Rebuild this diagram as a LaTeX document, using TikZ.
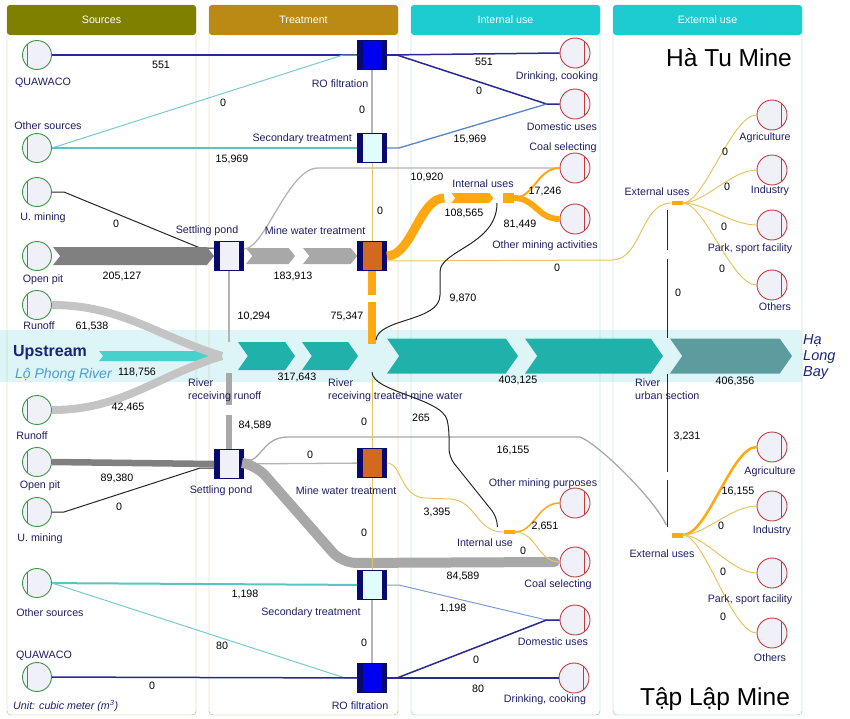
\documentclass[tikz,border=0pt]{standalone}
\usepackage{fontspec}
\setmainfont{Liberation Sans}
\usetikzlibrary{shapes.symbols, positioning, calc}

\definecolor{srchead}{RGB}{128,128,0}
\definecolor{srcline}{RGB}{176,176,112}
\definecolor{trthead}{RGB}{186,138,20}
\definecolor{trtline}{RGB}{204,168,84}
\definecolor{usehead}{RGB}{28,204,208}
\definecolor{useline}{RGB}{96,200,200}
\definecolor{lblnavy}{RGB}{30,30,100}
\definecolor{srcgreen}{RGB}{60,150,70}
\definecolor{sinkred}{RGB}{190,60,60}
\definecolor{nodefill}{RGB}{240,240,248}
\definecolor{boxnavy}{RGB}{10,10,110}
\definecolor{rofill}{RGB}{0,0,240}
\definecolor{stfill}{RGB}{224,252,252}
\definecolor{mwfill}{RGB}{210,105,30}
\definecolor{qwline}{RGB}{40,40,150}
\definecolor{osline}{RGB}{90,196,196}
\definecolor{osdiag}{RGB}{120,200,210}
\definecolor{stline}{RGB}{90,130,200}
\definecolor{opgrey}{RGB}{128,128,128}
\definecolor{smgrey}{RGB}{168,168,168}
\definecolor{rngrey}{RGB}{196,196,196}
\definecolor{thgrey}{RGB}{180,180,180}
\definecolor{mineorange}{RGB}{255,168,18}
\definecolor{extyellow}{RGB}{232,196,96}
\definecolor{rivband}{RGB}{222,245,247}
\definecolor{rivteal}{RGB}{32,178,170}
\definecolor{rivcadet}{RGB}{92,156,158}
\definecolor{upcyan}{RGB}{72,209,204}
\definecolor{upnavy}{RGB}{25,35,120}
\definecolor{lpblue}{RGB}{74,156,208}

\tikzstyle{source} = [circle, draw=srcgreen, line width=0.9pt, fill=nodefill, minimum size=29pt, inner sep=0pt, path picture={\draw[srcgreen, line width=0.8pt] ([xshift=-9.5pt,yshift=-11pt]path picture bounding box.center) -- ++(0pt,22pt);}]
\tikzstyle{sink} = [circle, draw=sinkred, line width=0.9pt, fill=nodefill, minimum size=30pt, inner sep=0pt, path picture={\draw[sinkred, line width=0.8pt] ([xshift=9.5pt,yshift=-11pt]path picture bounding box.center) -- ++(0pt,22pt);}]
\tikzstyle{plant} = [rectangle, draw=boxnavy, line width=0.8pt, minimum size=29pt, inner sep=0pt, path picture={\fill[boxnavy] (path picture bounding box.south west) rectangle ([xshift=5pt]path picture bounding box.north west); \fill[boxnavy] (path picture bounding box.south east) rectangle ([xshift=-5pt]path picture bounding box.north east);}]
\tikzstyle{junction} = [rectangle, fill=mineorange, inner sep=0pt, minimum width=11pt, minimum height=4pt]
\tikzstyle{riverseg} = [signal, signal from=west, signal to=east, signal pointer angle=110, fill=rivteal, inner sep=0pt, minimum height=35pt]
\tikzstyle{header} = [rectangle, rounded corners=3pt, minimum width=189pt, minimum height=30pt, inner sep=0pt, text=white, font=\fontsize{10.7}{13}\selectfont]
\tikzstyle{lbl} = [font=\fontsize{10.7}{13}\selectfont, text=lblnavy, inner sep=0pt, text height=7.5pt, text depth=2.2pt]
\tikzstyle{rivlbl} = [font=\fontsize{10.7}{13}\selectfont, text=lblnavy, inner sep=0pt, align=left, anchor=west]
\tikzstyle{num} = [font=\fontsize{10.7}{13}\selectfont, text=black, inner sep=0pt]
\tikzstyle{mine} = [font=\fontsize{24.5}{28}\selectfont, text=black, inner sep=0pt]

\tikzstyle{qwflow} = [qwline, line width=1.5pt]
\tikzstyle{osflow} = [osline, line width=2pt]
\tikzstyle{osthin} = [osdiag, line width=1pt]
\tikzstyle{stflow} = [stline, line width=1.3pt]
\tikzstyle{umflow} = [black!85, line width=1pt]
\tikzstyle{rnflow} = [rngrey, line width=8pt]
\tikzstyle{pondthin} = [thgrey, line width=1.3pt]
\tikzstyle{pondthick} = [smgrey, line width=10pt, line cap=round]
\tikzstyle{mineflow} = [mineorange, line width=9pt]
\tikzstyle{usethin} = [mineorange, line width=2pt]
\tikzstyle{extthin} = [extyellow, line width=1pt]
\tikzstyle{riverblk} = [black!85, line width=1pt]

% chevron shaped band between two points, #3 half height
\newcommand{\flowband}[4]{%
  \fill[#4] let \p1=(#1), \p2=(#2) in
    (\x1,\y2+#3) -- (\x2-0.8*#3,\y2+#3) -- (\x2,\y2) -- (\x2-0.8*#3,\y2-#3)
    -- (\x1,\y2-#3) -- (\x1+0.8*#3,\y2) -- cycle;}

\begin{document}
\begin{tikzpicture}[x=1pt, y=-1pt]
\useasboundingbox (0,0) rectangle (850,718);

% river band and panels
\fill [rivband] (0,330) rectangle (802,382);
\draw [srcline, rounded corners=4pt] (7,5) rectangle (196,715);
\draw [trtline, rounded corners=4pt] (209,5) rectangle (398,715);
\draw [useline, rounded corners=4pt] (411,5) rectangle (600,715);
\draw [useline, rounded corners=4pt] (613,5) rectangle (802,715);
\node (hsrc) [header, fill=srchead] at (101.5,20) {Sources};
\node (htrt) [header, fill=trthead] at (303.5,20) {Treatment};
\node (hint) [header, fill=usehead] at (505.5,20) {Internal use};
\node (hext) [header, fill=usehead] at (707.5,20) {External use};

\node (hatu) [mine] at (729,58) {Hà Tu Mine};
\node (taplap) [mine] at (715,699) {Tập Lập Mine};

% river
\node (up) [font=\bfseries\fontsize{16}{19}\selectfont, text=upnavy, inner sep=0pt] at (50,353) {Upstream};
\node (lp) [font=\itshape\fontsize{14}{17}\selectfont, text=lpblue, inner sep=0pt, anchor=west] at (15,375) {Lộ Phong River};
\node (bay) [font=\itshape\fontsize{14.5}{16}\selectfont, text=upnavy, inner sep=0pt, align=left, anchor=west] at (803,357) {Hạ\\Long\\Bay};
\node (rv1) [riverseg, minimum width=57pt, minimum height=28pt] at (266.5,356) {};
\node (rv2) [riverseg, minimum width=56pt, minimum height=28pt] at (330,356) {};
\node (rv3) [riverseg, minimum width=131pt] at (452.5,356) {};
\node (rv4) [riverseg, minimum width=138pt] at (594,356) {};
\node (rv5) [riverseg, minimum width=122pt, fill=rivcadet] at (731,356) {};
\coordinate (rrun) at (222,356);
\coordinate (rmine) at (372,356);
\coordinate (rurban) at (667,356);

% sources
\node (qw1) [source] at (37,55) {};
\node (os1) [source] at (37,148) {};
\node (um1) [source] at (37,192) {};
\node (op1) [source] at (37,256) {};
\node (rn1) [source] at (37,305) {};
\node (rn2) [source] at (37,410) {};
\node (op2) [source] at (37,462) {};
\node (um2) [source] at (37,512) {};
\node (os2) [source] at (37,583) {};
\node (qw2) [source] at (37,677) {};

% treatment
\node (ro1) [plant, fill=rofill] at (372,55) {};
\node (st1) [plant, fill=stfill] at (372,148) {};
\node (sp1) [plant, fill=nodefill] at (229,256) {};
\node (mw1) [plant, fill=mwfill] at (372,256) {};
\node (sp2) [plant, fill=nodefill] at (229,464) {};
\node (mw2) [plant, fill=mwfill] at (372,463) {};
\node (st2) [plant, fill=stfill] at (372,585) {};
\node (ro2) [plant, fill=rofill] at (372,678) {};

% internal use
\node (dc1) [sink] at (575,53) {};
\node (du1) [sink] at (575,104) {};
\node (cs1) [sink] at (575,168) {};
\node (om1) [sink] at (575,219) {};
\node (om2) [sink] at (575,503) {};
\node (cs2) [sink] at (575,562) {};
\node (du2) [sink] at (575,620) {};
\node (dc2) [sink] at (574,678) {};
\node (iu1) [junction, minimum height=10pt] at (508,198) {};
\node (iu2) [junction] at (509,532) {};

% external use
\node (ag1) [sink] at (772,115) {};
\node (in1) [sink] at (772,170) {};
\node (pk1) [sink] at (772,225) {};
\node (ot1) [sink] at (772,285) {};
\node (ag2) [sink] at (772,447) {};
\node (in2) [sink] at (772,506) {};
\node (pk2) [sink] at (772,573) {};
\node (ot2) [sink] at (772,633) {};
\node (eu1) [junction] at (677,203) {};
\node (eu2) [junction, minimum height=5pt] at (677,535) {};

% flows, Ha Tu
\flowband{[xshift=12pt]up.east}{rrun}{5pt}{upcyan}
\draw [qwflow] (qw1) -- (ro1);
\draw [osthin] (os1.east) -- ([xshift=-14pt]ro1.west) -- (ro1.west);
\draw [osflow] (os1) -- (st1);
\draw [umflow] (um1.east) -- ++(12,0) -- ([xshift=-14pt,yshift=8pt]sp1.west) -- ([yshift=8pt]sp1.west);
\flowband{[xshift=1pt]op1.east}{sp1.west}{9pt}{opgrey}
\draw [rnflow] (rn1.east) to[out=0,in=163] (rrun);
\coordinate (smid) at (299,256);
\flowband{[xshift=2pt]sp1.east}{[xshift=-4pt]smid}{8pt}{smgrey}
\flowband{[xshift=4pt]smid}{mw1.west}{8pt}{smgrey}
\draw [pondthin] ([yshift=7pt]sp1.east) .. controls (265,249) and (288,168) .. (318,168) -- (cs1.west);
\draw [pondthin] (sp1.south) -- (sp1 |- rv1.north);
\draw [mineflow] (mw1.east) .. controls +(25,0) and +(-25,0) .. ([xshift=-58pt]iu1.west);
\flowband{[xshift=-51pt]iu1.west}{[xshift=-9pt]iu1.west}{5pt}{mineorange}
\draw [usethin] (iu1.east) .. controls +(20,0) and +(-22,0) .. (cs1.west);
\draw [mineorange, line width=6pt] (iu1.east) .. controls +(22,0) and +(-22,0) .. (om1.west);
\draw [extthin] ([yshift=-5pt]mw1.east) -- (612,260) .. controls (642,260) and (640,203) .. (eu1.west);
\draw [mineflow, line width=8pt, dash pattern=on 24.5pt off 7pt on 60pt] (mw1.south) -- ([yshift=12pt]rmine);
\draw [pondthin] (ro1) -- (st1);
\draw [extthin] (st1) -- (mw1);
\draw [qwflow] (ro1.east) -- (dc1.west);
\draw [qwflow] (ro1.east) -- ++(10,0) -- ([xshift=-13pt]du1.west) -- (du1.west);
\draw [stflow] (st1.east) -- ++(12,0) -- ([xshift=-13pt]du1.west);
\draw [riverblk] ([xshift=4pt,yshift=16pt]rmine) .. controls (378,318) and (440,322) .. (440,295) -- (440,272) .. controls (440,250) and (497,245) .. ([xshift=-11pt,yshift=-5pt]iu1.center);
\draw [riverblk, dash pattern=on 79pt off 9pt on 80pt] ([yshift=18pt]rurban) -- ([yshift=-5pt]rurban |- eu1.south);
\draw [extthin] (eu1.east) .. controls +(22,0) and +(-25,0) .. (ag1.west);
\draw [extthin] (eu1.east) .. controls +(22,0) and +(-25,0) .. (in1.west);
\draw [extthin] (eu1.east) .. controls +(22,0) and +(-25,0) .. (pk1.west);
\draw [extthin] (eu1.east) .. controls +(22,0) and +(-25,0) .. (ot1.west);

% flows, Tap Lap
\draw [rnflow] (rn2.east) to[out=0,in=197] (rrun);
\draw [opgrey, line width=6.5pt] (op2.east) -- (sp2.west);
\draw [umflow] (um2.east) -- ++(12,0) -- ([xshift=-14pt,yshift=-4pt]sp2.west) -- ([yshift=-4pt]sp2.west);
\draw [smgrey, line width=6pt, dash pattern=on 34.5pt off 10pt on 40pt] (sp2.north) -- ([yshift=-17pt]sp2 |- rrun);
\draw [pondthin] (sp2) -- (mw2);
\draw [pondthin, smgrey] ([yshift=2pt]sp2.east) .. controls (262,462) and (262,437) .. (288,437) -- (580,437) .. controls (600,445) and (655,500) .. ([xshift=-5pt,yshift=10pt]eu2.west);
\draw [pondthick, rounded corners=14pt] ([xshift=5pt]sp2.east) -- (256,465) -- (342,563) -- ([xshift=-5pt]cs2.west);
\draw [extthin] (mw2.east) .. controls (402,463) and (400,497) .. (425,498) -- (450,499) .. controls (476,500) and (476,532) .. (iu2.west);
\draw [riverblk, rounded corners=8pt] ([yshift=-16pt]rmine) .. controls (372,392) and (442,398) .. (449,428) -- (449,457) -- (497,517) -- ([xshift=-6pt,yshift=5pt]iu2.west);
\draw [usethin, line width=1.5pt] (iu2.east) .. controls +(20,0) and +(-22,0) .. (om2.west);
\draw [extthin] (iu2.east) .. controls +(22,0) and +(-22,0) .. (cs2.west);
\draw [osflow] (os2) -- (st2);
\draw [osthin] (os2.east) -- ([xshift=-12pt]ro2.west) -- (ro2.west);
\draw [qwflow] (qw2) -- (ro2);
\draw [extthin] (mw2) -- (st2);
\draw [pondthin] (st2) -- (ro2);
\draw [extthin] ([yshift=-22pt]rmine) -- (mw2);
\draw [osthin, stline!80] (st2.east) -- ++(12,0) -- ([xshift=-13pt]du2.west) -- (du2.west);
\draw [qwflow] (ro2.east) -- ++(10,0) -- ([xshift=-13pt]du2.west) -- (du2.west);
\draw [qwflow] (ro2) -- (dc2);
\draw [riverblk, dash pattern=on 98pt off 8pt on 80pt] ([yshift=-18pt]rurban) -- ([yshift=5pt]rurban |- eu2.north);
\draw [mineorange, line width=2.5pt] (eu2.east) .. controls +(25,0) and +(-25,0) .. (ag2.west);
\draw [extthin] (eu2.east) .. controls +(22,0) and +(-25,0) .. (in2.west);
\draw [extthin] (eu2.east) .. controls +(22,0) and +(-25,0) .. (pk2.west);
\draw [extthin] (eu2.east) .. controls +(22,0) and +(-25,0) .. (ot2.west);

% names
\node (qw1l) [lbl, below=8pt of qw1, xshift=6pt] {QUAWACO};
\node (os1l) [lbl, above=1.5pt of os1, xshift=11pt] {Other sources};
\node (um1l) [lbl, below=6pt of um1, xshift=6pt] {U. mining};
\node (op1l) [lbl, below=4pt of op1, xshift=6pt] {Open pit};
\node (rn1l) [lbl, below=2pt of rn1, xshift=2pt] {Runoff};
\node (rn2l) [lbl, below=7pt of rn2, xshift=-5pt] {Runoff};
\node (op2l) [lbl, below=4pt of op2, xshift=3pt] {Open pit};
\node (um2l) [lbl, below=7pt of um2, xshift=3pt] {U. mining};
\node (os2l) [lbl, below=11pt of os2, xshift=13pt] {Other sources};
\node (qw2l) [lbl, above=1.5pt of qw2, xshift=7pt] {QUAWACO};
\node (ro1l) [lbl, below=10pt of ro1, xshift=-32pt] {RO filtration};
\node (st1l) [lbl, left=5pt of st1, yshift=9pt] {Secondary treatment};
\node (sp1l) [lbl, above=5.5pt of sp1, xshift=-22pt] {Settling pond};
\node (mw1l) [lbl, above=4.5pt of mw1, xshift=-57pt] {Mine water treatment};
\node (sp2l) [lbl, below=7pt of sp2, xshift=-8pt] {Settling pond};
\node (mw2l) [lbl, below=9pt of mw2, xshift=-26pt] {Mine water treatment};
\node (st2l) [lbl, below=8pt of st2, xshift=-61pt] {Secondary treatment};
\node (ro2l) [lbl, below=9pt of ro2, xshift=-12pt] {RO filtration};
\node (dc1l) [lbl, below=3pt of dc1, xshift=-18pt] {Drinking, cooking};
\node (du1l) [lbl, below=3pt of du1, xshift=-13pt] {Domestic uses};
\node (cs1l) [lbl, above=0pt of cs1, xshift=-12pt] {Coal selecting};
\node (om1l) [lbl, below=6pt of om1, xshift=-30pt] {Other mining activities};
\node (om2l) [lbl, above=-1pt of om2, xshift=-32pt] {Other mining purposes};
\node (cs2l) [lbl, below=2pt of cs2, xshift=-17pt] {Coal selecting};
\node (du2l) [lbl, below=2pt of du2, xshift=-22pt] {Domestic uses};
\node (dc2l) [lbl, below=1pt of dc2, xshift=-29pt] {Drinking, cooking};
\node (iu1l) [lbl, above=3pt of iu1, xshift=-25pt] {Internal uses};
\node (iu2l) [lbl, below=4.5pt of iu2, xshift=-24pt] {Internal use};
\node (eu1l) [lbl, above=3pt of eu1, xshift=-20pt] {External uses};
\node (eu2l) [lbl, below=12.5pt of eu2, xshift=-15pt] {External uses};
\node (ag1l) [lbl, below=2pt of ag1, xshift=-7pt] {Agriculture};
\node (in1l) [lbl, below=0pt of in1, xshift=-2pt] {Industry};
\node (pk1l) [lbl, below=3pt of pk1, xshift=-22pt] {Park, sport facility};
\node (ot1l) [lbl, below=2pt of ot1, xshift=3pt] {Others};
\node (ag2l) [lbl, below=4pt of ag2, xshift=-2pt] {Agriculture};
\node (in2l) [lbl, below=4pt of in2] {Industry};
\node (pk2l) [lbl, below=6pt of pk2, xshift=-22pt] {Park, sport facility};
\node (ot2l) [lbl, below=5pt of ot2, xshift=-2pt] {Others};
\node (rrunl) [rivlbl] at (188,390) {River\\receiving runoff};
\node (rminel) [rivlbl] at (328,390) {River\\receiving treated mine water};
\node (rurbanl) [rivlbl] at (635,389.5) {River\\urban section};
\node (unit) [lbl, anchor=west, font=\itshape\fontsize{10.7}{13}\selectfont] at (13,707) {Unit: cubic meter (m\textsuperscript{3})};

% values
\node (v1) [num] at (161,65) {551};
\node (v2) [num] at (223,103) {0};
\node (v3) [num] at (232,159) {15,969};
\node (v4) [num] at (116,224) {0};
\node (v5) [num] at (122,276) {205,127};
\node (v6) [num] at (92,326) {61,538};
\node (v7) [num] at (362,110) {0};
\node (v8) [num] at (380,211) {0};
\node (v9) [num] at (293,276) {183,913};
\node (v10) [num] at (427,177) {10,920};
\node (v11) [num] at (254,316) {10,294};
\node (v12) [num] at (347,316) {75,347};
\node (v13) [num] at (484,62) {551};
\node (v14) [num] at (479,91) {0};
\node (v15) [num] at (470,139) {15,969};
\node (v16) [num] at (464,213) {108,565};
\node (v17) [num] at (545,191) {17,246};
\node (v18) [num] at (520,224) {81,449};
\node (v19) [num] at (557,268) {0};
\node (v20) [num] at (463,298) {9,870};
\node (v21) [num] at (678,293) {0};
\node (v22) [num] at (725,152) {0};
\node (v23) [num] at (727,187) {0};
\node (v24) [num] at (724,227) {0};
\node (v25) [num] at (722,269) {0};
\node (v26) [num] at (137,372) {118,756};
\node (v27) [num] at (297,377) {317,643};
\node (v28) [num] at (518,380) {403,125};
\node (v29) [num] at (735,381) {406,356};
\node (v30) [num] at (128,407) {42,465};
\node (v31) [num] at (255,425) {84,589};
\node (v32) [num] at (364,422) {0};
\node (v33) [num] at (421,418) {265};
\node (v34) [num] at (513,450) {16,155};
\node (v35) [num] at (687,436) {3,231};
\node (v36) [num] at (117,478) {89,380};
\node (v37) [num] at (119,507) {0};
\node (v38) [num] at (310,455) {0};
\node (v39) [num] at (437,512) {3,395};
\node (v40) [num] at (545,526) {2,651};
\node (v41) [num] at (523,551) {0};
\node (v42) [num] at (463,576) {84,589};
\node (v43) [num] at (364,533) {0};
\node (v44) [num] at (245,594) {1,198};
\node (v45) [num] at (222,646) {80};
\node (v46) [num] at (364,643) {0};
\node (v47) [num] at (152,686) {0};
\node (v48) [num] at (453,608) {1,198};
\node (v49) [num] at (476,660) {0};
\node (v50) [num] at (478,689) {80};
\node (v51) [num] at (738,491) {16,155};
\node (v52) [num] at (721,526) {0};
\node (v53) [num] at (723,572) {0};
\node (v54) [num] at (723,617) {0};
\end{tikzpicture}
\end{document}
